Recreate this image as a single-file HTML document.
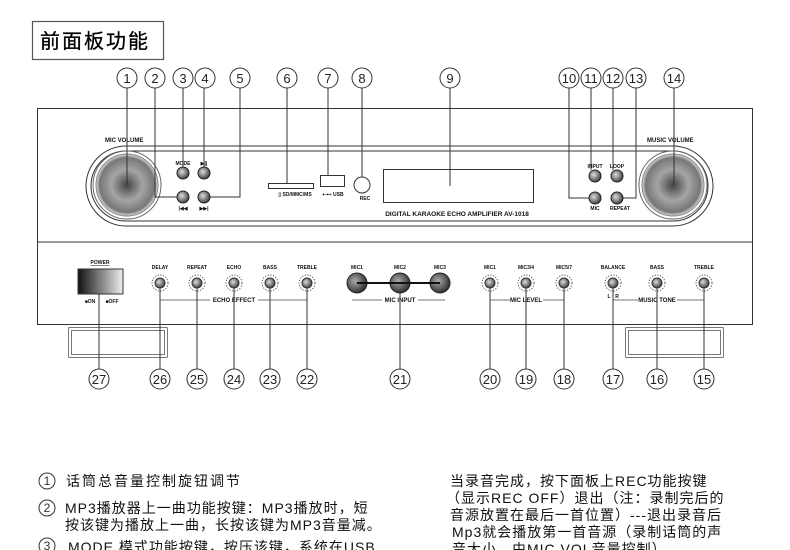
<!DOCTYPE html>
<html><head><meta charset="utf-8"><style>
html,body{margin:0;padding:0;background:#fff;}
svg{display:block;}
.t{font-family:"Liberation Sans","Noto Sans CJK SC",sans-serif;}
.s{font-family:"Liberation Sans",sans-serif;font-weight:bold;font-size:5px;fill:#111;text-anchor:middle;}
.n{font-family:"Liberation Sans",sans-serif;font-size:13px;fill:#222;text-anchor:middle;}
</style></head><body>
<svg width="790" height="550" viewBox="0 0 790 550" xmlns="http://www.w3.org/2000/svg">
<defs>
<radialGradient id="kn" cx="50%" cy="50%" r="50%">
<stop offset="0" stop-color="#444"/><stop offset="0.5" stop-color="#a5a5a5"/><stop offset="0.88" stop-color="#777"/><stop offset="1" stop-color="#ddd"/>
</radialGradient>
<radialGradient id="bt" cx="40%" cy="40%" r="60%"><stop offset="0" stop-color="#ddd"/><stop offset="1" stop-color="#444"/></radialGradient>
<radialGradient id="mb" cx="40%" cy="40%" r="60%"><stop offset="0" stop-color="#aaa"/><stop offset="1" stop-color="#333"/></radialGradient>
<linearGradient id="pw" x1="0" x2="1"><stop offset="0" stop-color="#111"/><stop offset="1" stop-color="#eee"/></linearGradient>
</defs>
<rect x="32.5" y="21.5" width="131" height="38" fill="#fff" stroke="#555" stroke-width="1.2"/>
<text x="40" y="48" class="t" font-size="20" letter-spacing="2" fill="#000" stroke="#000" stroke-width="0.3">前面板功能</text>

<g fill="none" stroke="#333" stroke-width="1">
<rect x="37.5" y="108.5" width="715" height="216"/>
<line x1="37" y1="242" x2="753" y2="242"/>
<rect x="86" y="146" width="627" height="80" rx="40"/>
<rect x="91" y="151" width="617" height="70" rx="35"/>
<rect x="383.5" y="169.5" width="150" height="33"/>
<rect x="268.5" y="183.5" width="45" height="5"/>
<rect x="320.5" y="175.5" width="24" height="11"/>
<circle cx="362" cy="185" r="8"/>
</g>
<g fill="none" stroke="#777" stroke-width="1">
<rect x="68.5" y="327.5" width="99" height="30" rx="1"/>
<rect x="71.5" y="330.5" width="93" height="24"/>
<rect x="625.5" y="327.5" width="98" height="30" rx="1"/>
<rect x="628.5" y="330.5" width="92" height="24"/>
</g>

<circle cx="127" cy="185" r="34" fill="#fff" stroke="#666"/>
<circle cx="127" cy="185" r="31" fill="url(#kn)" stroke="#888"/>
<circle cx="673" cy="185" r="34" fill="#fff" stroke="#666"/>
<circle cx="673" cy="185" r="31" fill="url(#kn)" stroke="#888"/>

<g stroke="#222" stroke-width="1" fill="url(#bt)">
<circle cx="183" cy="173" r="6"/><circle cx="204" cy="173" r="6"/>
<circle cx="183" cy="197" r="6"/><circle cx="204" cy="197" r="6"/>
<circle cx="595" cy="176" r="6"/><circle cx="617" cy="176" r="6"/>
<circle cx="595" cy="198" r="6"/><circle cx="617" cy="198" r="6"/>
</g>
<g class="s">
<text x="105" y="142" font-size="6" text-anchor="start">MIC VOLUME</text>
<text x="647" y="142" font-size="6" text-anchor="start">MUSIC VOLUME</text>
<text x="183" y="165">MODE</text><text x="204" y="165">▶||</text>
<text x="183" y="210">|◀◀</text><text x="204" y="210">▶▶|</text>
<text x="595" y="168">INPUT</text><text x="617" y="168">LOOP</text>
<text x="595" y="210">MIC</text><text x="620" y="210">REPEAT</text>
<text x="295" y="196">▯ SD/MMC/MS</text><text x="333" y="196">⇠⊷ USB</text>
<text x="365" y="200">REC</text>
<text x="457" y="216" font-size="6.5">DIGITAL KARAOKE ECHO AMPLIFIER AV-1018</text>
</g>

<text x="100" y="264" class="s" font-size="6" text-decoration="underline">POWER</text>
<rect x="78" y="269" width="45" height="25" fill="url(#pw)" stroke="#333"/>
<text x="90" y="303" class="s">■ON</text><text x="112" y="303" class="s">■OFF</text>

<g class="s">
<text x="160" y="269">DELAY</text><text x="197" y="269">REPEAT</text><text x="234" y="269">ECHO</text><text x="270" y="269">BASS</text><text x="307" y="269">TREBLE</text>
<text x="357" y="269">MIC1</text><text x="400" y="269">MIC2</text><text x="440" y="269">MIC3</text>
<text x="490" y="269">MIC1</text><text x="526" y="269">MIC3/4</text><text x="564" y="269">MIC5/7</text>
<text x="613" y="269">BALANCE</text><text x="657" y="269">BASS</text><text x="704" y="269">TREBLE</text>
<text x="609" y="298">L</text><text x="617" y="298">R</text>
<text x="234" y="302" font-size="6">ECHO EFFECT</text>
<text x="400" y="302" font-size="6">MIC INPUT</text>
<text x="526" y="302" font-size="6">MIC LEVEL</text>
<text x="657" y="302" font-size="6">MUSIC TONE</text>
</g>
<g fill="none" stroke="#444" stroke-width="0.8">
<line x1="160" y1="300" x2="210" y2="300"/><line x1="258" y1="300" x2="307" y2="300"/>
<line x1="352" y1="300" x2="382" y2="300"/><line x1="418" y1="300" x2="445" y2="300"/>
<line x1="490" y1="300" x2="510" y2="300"/><line x1="543" y1="300" x2="564" y2="300"/>
<line x1="613" y1="300" x2="638" y2="300"/><line x1="677" y1="300" x2="704" y2="300"/>
</g>
<g stroke="#333" stroke-width="1" fill="url(#bt)">
<circle cx="160" cy="283" r="5"/><circle cx="197" cy="283" r="5"/><circle cx="234" cy="283" r="5"/><circle cx="270" cy="283" r="5"/><circle cx="307" cy="283" r="5"/>
<circle cx="490" cy="283" r="5"/><circle cx="526" cy="283" r="5"/><circle cx="564" cy="283" r="5"/>
<circle cx="613" cy="283" r="5"/><circle cx="657" cy="283" r="5"/><circle cx="704" cy="283" r="5"/>
</g>
<g fill="none" stroke="#555" stroke-width="1" stroke-dasharray="1.2 1.5">
<circle cx="160" cy="283" r="8"/><circle cx="197" cy="283" r="8"/><circle cx="234" cy="283" r="8"/><circle cx="270" cy="283" r="8"/><circle cx="307" cy="283" r="8"/>
<circle cx="490" cy="283" r="8"/><circle cx="526" cy="283" r="8"/><circle cx="564" cy="283" r="8"/>
<circle cx="613" cy="283" r="8"/><circle cx="657" cy="283" r="8"/><circle cx="704" cy="283" r="8"/>
</g>
<g stroke="#222" stroke-width="1" fill="url(#mb)">
<circle cx="357" cy="283" r="10"/><circle cx="400" cy="283" r="10"/><circle cx="440" cy="283" r="10"/>
</g>
<line x1="357" y1="283" x2="440" y2="283" stroke="#111" stroke-width="2"/>

<g fill="none" stroke="#333" stroke-width="1">
<path d="M127 88V185"/><path d="M155 88V197H177"/><path d="M183 88V167"/><path d="M204 88V167"/><path d="M240 88V197H210"/>
<path d="M287 88V183"/><path d="M328 88V175"/><path d="M362 88V177"/><path d="M450 88V186"/>
<path d="M569 88V198H589"/><path d="M591 88V170"/><path d="M613 88V170"/><path d="M636 88V198H623"/><path d="M674 88V185"/>
<path d="M99 294V369"/><path d="M160 288V369"/><path d="M197 288V369"/><path d="M234 288V369"/><path d="M270 288V369"/><path d="M307 288V369"/>
<path d="M400 293V369"/><path d="M490 288V369"/><path d="M526 288V369"/><path d="M564 288V369"/><path d="M613 288V369"/><path d="M657 288V369"/><path d="M704 288V369"/>
</g>
<g fill="#fff" stroke="#333" stroke-width="1">
<circle cx="127" cy="78" r="10"/><circle cx="155" cy="78" r="10"/><circle cx="183" cy="78" r="10"/><circle cx="205" cy="78" r="10"/><circle cx="240" cy="78" r="10"/>
<circle cx="287" cy="78" r="10"/><circle cx="328" cy="78" r="10"/><circle cx="362" cy="78" r="10"/><circle cx="450" cy="78" r="10"/>
<circle cx="569" cy="78" r="10"/><circle cx="591" cy="78" r="10"/><circle cx="613" cy="78" r="10"/><circle cx="636" cy="78" r="10"/><circle cx="674" cy="78" r="10"/>
<circle cx="99" cy="379" r="10"/><circle cx="160" cy="379" r="10"/><circle cx="197" cy="379" r="10"/><circle cx="234" cy="379" r="10"/><circle cx="270" cy="379" r="10"/><circle cx="307" cy="379" r="10"/>
<circle cx="400" cy="379" r="10"/><circle cx="490" cy="379" r="10"/><circle cx="526" cy="379" r="10"/><circle cx="564" cy="379" r="10"/><circle cx="613" cy="379" r="10"/><circle cx="657" cy="379" r="10"/><circle cx="704" cy="379" r="10"/>
</g>
<g class="n">
<text x="127" y="83">1</text><text x="155" y="83">2</text><text x="183" y="83">3</text><text x="205" y="83">4</text><text x="240" y="83">5</text>
<text x="287" y="83">6</text><text x="328" y="83">7</text><text x="362" y="83">8</text><text x="450" y="83">9</text>
<text x="569" y="83">10</text><text x="591" y="83">11</text><text x="613" y="83">12</text><text x="636" y="83">13</text><text x="674" y="83">14</text>
<text x="99" y="384">27</text><text x="160" y="384">26</text><text x="197" y="384">25</text><text x="234" y="384">24</text><text x="270" y="384">23</text><text x="307" y="384">22</text>
<text x="400" y="384">21</text><text x="490" y="384">20</text><text x="526" y="384">19</text><text x="564" y="384">18</text><text x="613" y="384">17</text><text x="657" y="384">16</text><text x="704" y="384">15</text>
</g>

<g fill="none" stroke="#333"><circle cx="47" cy="481" r="8"/><circle cx="47" cy="508" r="8"/><circle cx="47" cy="546" r="8"/></g>
<g class="t" font-size="12" fill="#333" text-anchor="middle"><text x="47" y="485">1</text><text x="47" y="512">2</text><text x="47" y="550">3</text></g>
<g class="t" font-size="14" fill="#111">
<text x="66" y="486" letter-spacing="2">话筒总音量控制旋钮调节</text>
<text x="65" y="513" letter-spacing="1">MP3播放器上一曲功能按键：MP3播放时，短</text>
<text x="65" y="530" letter-spacing="1">按该键为播放上一曲，长按该键为MP3音量减。</text>
<text x="68" y="552" letter-spacing="1">MODE 模式功能按键，按压该键，系统在USB</text>
<text x="450" y="486" letter-spacing="1">当录音完成，按下面板上REC功能按键</text>
<text x="446" y="503" letter-spacing="1">（显示REC OFF）退出（注：录制完后的</text>
<text x="450" y="520" letter-spacing="1">音源放置在最后一首位置）---退出录音后</text>
<text x="452" y="537" letter-spacing="1">Mp3就会播放第一首音源（录制话筒的声</text>
<text x="452" y="554" letter-spacing="1">音大小，由MIC VOL音量控制）</text>
</g>
</svg>
</body></html>
